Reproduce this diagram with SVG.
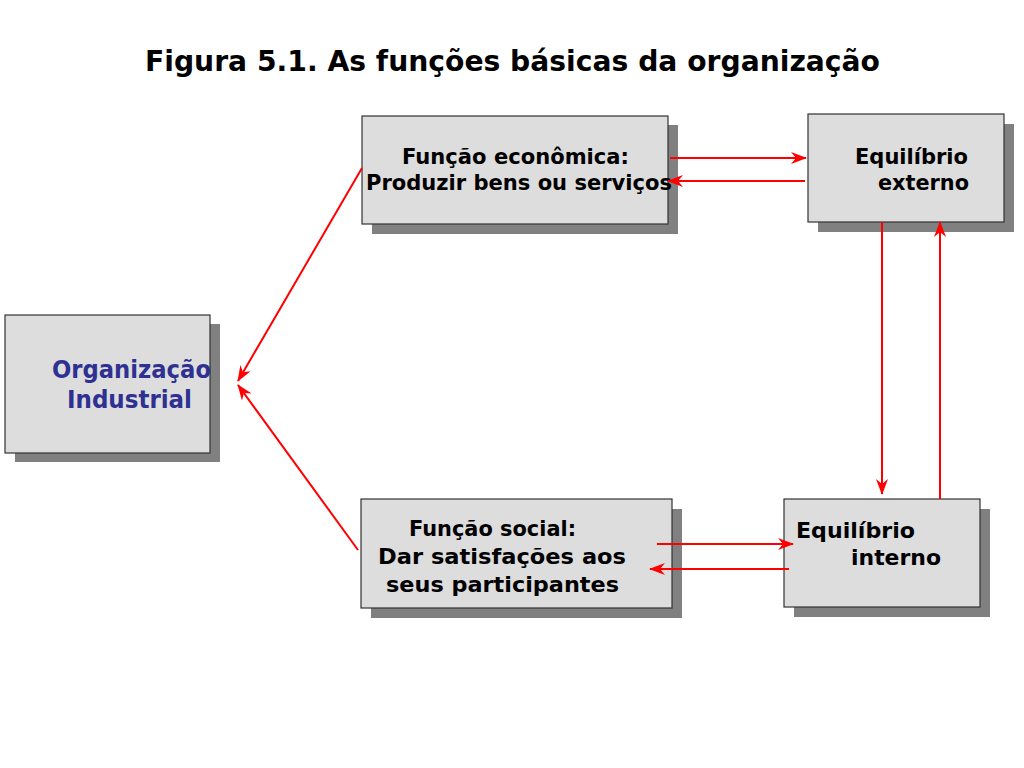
<svg xmlns="http://www.w3.org/2000/svg" width="1024" height="768" viewBox="0 0 1024 768">
<defs>
<style>
.box{fill:#dddddd;stroke:#333333;stroke-width:1.2}
.sh{fill:#808080}
.t{font-family:"DejaVu Sans",Verdana,sans-serif;font-weight:bold;font-size:22px;fill:#000}
.b{fill:#2e3192;font-size:24px}
.title{font-family:"DejaVu Sans",Verdana,sans-serif;font-weight:bold;font-size:28px;fill:#000}
.c{stroke:#ff0000;stroke-width:2;fill:none;marker-end:url(#ah)}
</style>
<marker id="ah" viewBox="0 0 16 12" refX="15" refY="6" markerWidth="16" markerHeight="12" markerUnits="userSpaceOnUse" orient="auto">
<path d="M0,0 L16,6 L0,12 L5,6 Z" fill="#ff0000"/>
</marker>
</defs>
<rect width="1024" height="768" fill="#fff"/>
<text class="title" x="145" y="71" textLength="735" lengthAdjust="spacingAndGlyphs">Figura 5.1. As funções básicas da organização</text>
<g id="org">
<rect class="sh" x="15" y="324" width="205" height="138"/>
<rect class="box" x="5" y="315" width="205" height="138"/>
<text class="t b" x="52" y="378" textLength="159" lengthAdjust="spacingAndGlyphs">Organização</text>
<text class="t b" x="67" y="408" textLength="125" lengthAdjust="spacingAndGlyphs">Industrial</text>
</g>
<g id="economica">
<rect class="sh" x="372" y="125" width="306" height="109"/>
<rect class="box" x="362" y="116" width="306" height="108"/>
<text class="t" x="402" y="164" textLength="227" lengthAdjust="spacingAndGlyphs">Função econômica:</text>
<text class="t" x="366" y="190" textLength="306" lengthAdjust="spacingAndGlyphs">Produzir bens ou serviços</text>
</g>
<g id="externo">
<rect class="sh" x="818" y="124" width="196" height="108"/>
<rect class="box" x="808" y="114" width="196" height="108"/>
<text class="t" x="855" y="164" textLength="113" lengthAdjust="spacingAndGlyphs">Equilíbrio</text>
<text class="t" x="878" y="190" textLength="91" lengthAdjust="spacingAndGlyphs">externo</text>
</g>
<g id="social">
<rect class="sh" x="371" y="509" width="311" height="109"/>
<rect class="box" x="361" y="499" width="311" height="109"/>
<text class="t" x="409" y="536" textLength="167" lengthAdjust="spacingAndGlyphs">Função social:</text>
<text class="t" x="378" y="564" textLength="248" lengthAdjust="spacingAndGlyphs">Dar satisfações aos</text>
<text class="t" x="386" y="592" textLength="233" lengthAdjust="spacingAndGlyphs">seus participantes</text>
</g>
<g id="interno">
<rect class="sh" x="794" y="509" width="196" height="108"/>
<rect class="box" x="784" y="499" width="196" height="108"/>
<text class="t" x="796" y="538" textLength="119" lengthAdjust="spacingAndGlyphs">Equilíbrio</text>
<text class="t" x="851" y="565" textLength="90" lengthAdjust="spacingAndGlyphs">interno</text>
</g>
<g id="connectors">
<line class="c" x1="670" y1="158" x2="806" y2="158"/>
<line class="c" x1="805" y1="181" x2="668" y2="181"/>
<line class="c" x1="362" y1="168" x2="238" y2="381"/>
<line class="c" x1="358" y1="550" x2="238" y2="385"/>
<line class="c" x1="882" y1="222" x2="882" y2="494"/>
<line class="c" x1="940" y1="499" x2="940" y2="222"/>
<line class="c" x1="657" y1="544" x2="793" y2="544"/>
<line class="c" x1="789" y1="569" x2="650" y2="569"/>
</g>
</svg>
